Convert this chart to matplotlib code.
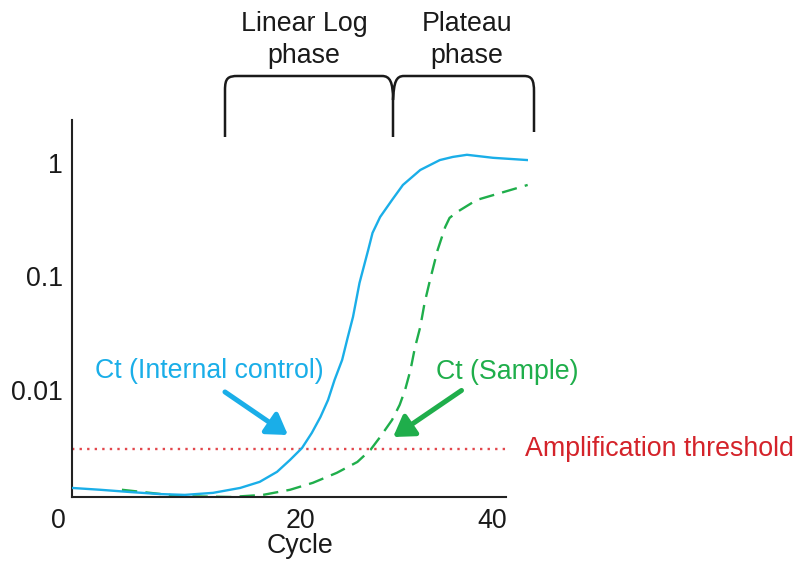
import matplotlib
matplotlib.use("Agg")
import matplotlib.pyplot as plt
from matplotlib.path import Path
from matplotlib.patches import PathPatch
from matplotlib.transforms import ScaledTranslation

plt.rcParams['font.family'] = ['Liberation Sans', 'DejaVu Sans']

# amplification curves (cycle, relative fluorescence)
control_cycles = [0.0, 2.6, 5.4, 8.1, 10.4, 13.0, 15.5, 17.3, 18.9, 20.1, 21.2,
                  22.1, 22.9, 23.6, 24.2, 24.9, 25.4, 25.9, 26.5, 27.3, 27.7,
                  28.4, 29.5, 30.5, 32.1, 33.9, 35.1, 36.4, 38.8, 42.0]
control_values = [0.00137, 0.00132, 0.00126, 0.00121, 0.00119, 0.00124, 0.00137,
                  0.00155, 0.00190, 0.00242, 0.00308, 0.00418, 0.00578, 0.00816,
                  0.01225, 0.0184, 0.0287, 0.0440, 0.0877, 0.171, 0.242, 0.334,
                  0.472, 0.640, 0.867, 1.06, 1.13, 1.18, 1.11, 1.06]

sample_cycles = [4.6, 7.2, 10.0, 14.6, 17.6, 20.1, 22.2, 24.4, 26.3, 27.5, 28.4,
                 29.5, 30.2, 30.7, 31.2, 31.6, 32.1, 32.5, 33.0, 33.7, 34.4,
                 34.8, 35.5, 37.3, 39.5, 42.0]
sample_values = [0.00132, 0.00124, 0.00116, 0.00114, 0.00119, 0.00132, 0.00152,
                 0.00186, 0.00232, 0.00296, 0.00385, 0.00544, 0.00738, 0.0100,
                 0.0150, 0.0234, 0.0359, 0.0585, 0.0931, 0.171, 0.273, 0.328,
                 0.370, 0.472, 0.544, 0.640]

threshold = 0.0030
yticks = [0.01, 0.1, 1]
ytick_labels = ['0.01', '0.1', '1']
xticks = [0, 20, 40]
xtick_labels = ['0', '20', '40']

BLUE = '#1aaee8'
GREEN = '#1fae4b'
RED = '#d4232a'
INK = '#1a1a1a'
FS = 19.3

fig = plt.figure(figsize=(7.97, 5.63), dpi=100)
W, H = 797, 563
ax = fig.add_axes([72 / W, (H - 497) / H, (528 - 72) / W, (497 - 120) / H])
ax.set_yscale('log')
ax.set_xlim(0, 42.03)
ax.set_ylim(0.00114, 2.39)

ax.plot(control_cycles, control_values, color=BLUE, lw=1.7, zorder=3,
        solid_joinstyle='round')
ax.plot(sample_cycles, sample_values, color=GREEN, lw=1.7, dashes=[6.5, 3.5],
        zorder=2, dash_joinstyle='round')
ax.hlines(threshold, 0, 40, colors='#e2474c', lw=1.7, linestyles=(0, (1, 2.2)))

for s in ['top', 'right']:
    ax.spines[s].set_visible(False)
for s in ['left', 'bottom']:
    ax.spines[s].set_linewidth(1.5)
    ax.spines[s].set_color('#222222')
ax.spines['bottom'].set_bounds(0, 40)

ax.set_yticks(yticks)
ax.set_yticklabels(ytick_labels)
ax.minorticks_off()
ax.set_xticks(xticks)
ax.set_xticklabels(xtick_labels)
ax.tick_params(length=0, labelsize=FS, colors=INK)
ax.tick_params(axis='y', pad=6.5)
ax.tick_params(axis='x', pad=8)
# nudge the x tick labels to where they sit in the drawing
for lab, dx in zip(ax.get_xticklabels(), [-14, 11, -14]):
    lab.set_transform(lab.get_transform() + ScaledTranslation(dx / 100, 0, fig.dpi_scale_trans))
ax.set_xlabel('Cycle', fontsize=FS, color=INK, labelpad=-1)

ax.text(41.75, threshold, 'Amplification threshold', color=RED, fontsize=FS,
        ha='left', va='center', clip_on=False)

ax.text(12.7, 0.0147, 'Ct (Internal control)', color=BLUE, fontsize=FS,
        ha='center', va='center')
ax.text(40.1, 0.0145, 'Ct (Sample)', color=GREEN, fontsize=FS,
        ha='center', va='center', clip_on=False)

arrow_style = dict(arrowstyle='-|>,head_length=0.6,head_width=0.38', lw=3.6,
                   mutation_scale=20, shrinkA=0, shrinkB=0)
ax.annotate('', xy=(19.9, 0.00401), xytext=(14.1, 0.0096),
            arrowprops=dict(color=BLUE, **arrow_style))
ax.annotate('', xy=(29.6, 0.00385), xytext=(35.9, 0.0099),
            arrowprops=dict(color=GREEN, **arrow_style))


# phase brackets drawn in pixel space of the figure
def fp(x, y):
    return (x / W, 1 - y / H)


verts = [fp(225, 137), fp(225, 90), fp(225, 78), fp(228, 76), fp(238, 76),
         fp(382, 76), fp(390, 76), fp(393, 82), fp(393, 100), fp(393, 137),
         fp(393, 100), fp(394, 82), fp(396, 76), fp(404, 76),
         fp(524, 76), fp(532, 76), fp(534, 80), fp(534, 92), fp(534, 132)]
codes = [Path.MOVETO, Path.LINETO, Path.CURVE4, Path.CURVE4, Path.CURVE4,
         Path.LINETO, Path.CURVE4, Path.CURVE4, Path.CURVE4, Path.LINETO,
         Path.MOVETO, Path.CURVE4, Path.CURVE4, Path.CURVE4,
         Path.LINETO, Path.CURVE4, Path.CURVE4, Path.CURVE4, Path.LINETO]
fig.add_artist(PathPatch(Path(verts, codes), transform=fig.transFigure,
                         fill=False, lw=1.8, edgecolor=INK, capstyle='butt'))

fig.text(*fp(304, 40), 'Linear Log\nphase', fontsize=FS, color=INK,
         ha='center', va='center', linespacing=1.3)
fig.text(*fp(467, 40), 'Plateau\nphase', fontsize=FS, color=INK,
         ha='center', va='center', linespacing=1.3)

fig.savefig('out.png', dpi=100)
